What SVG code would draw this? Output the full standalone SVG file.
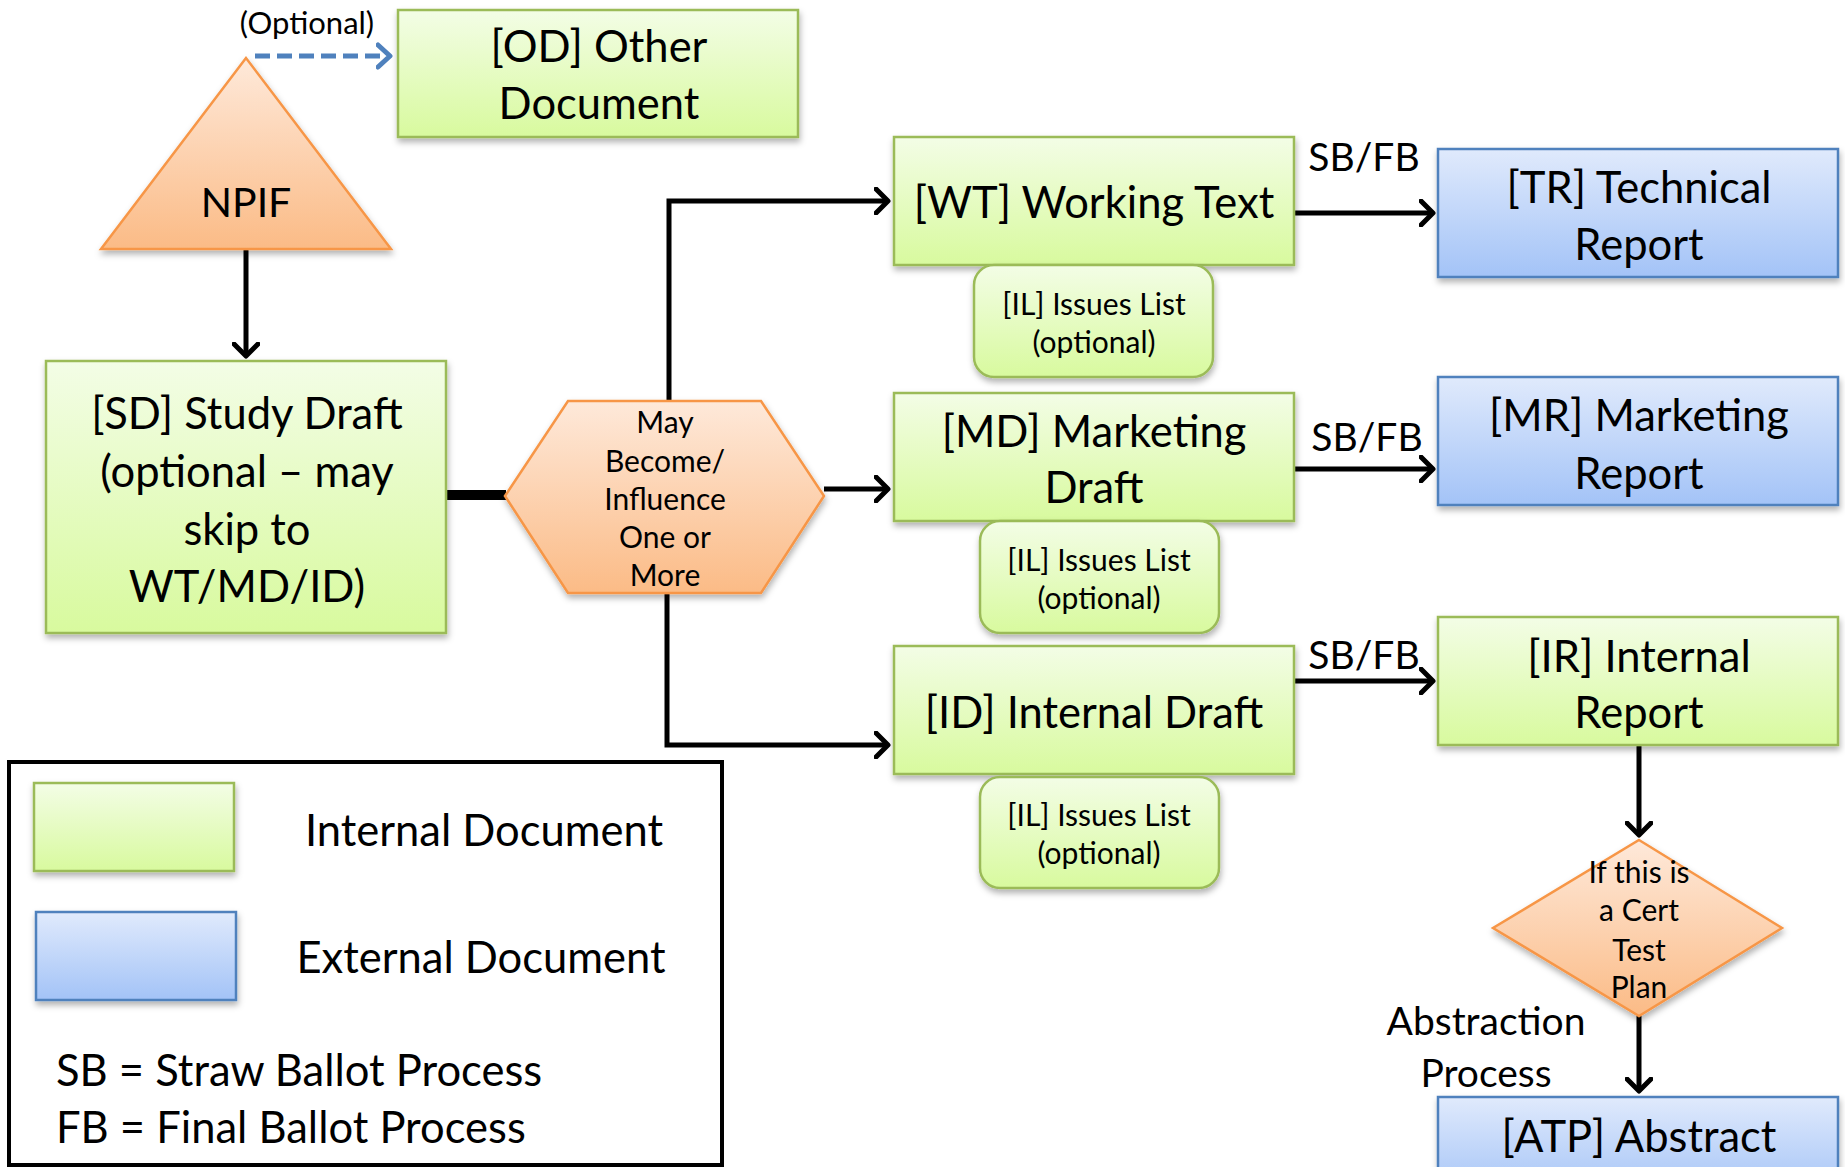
<svg xmlns="http://www.w3.org/2000/svg" width="1845" height="1167" viewBox="0 0 1845 1167">
<defs>
<linearGradient id="gG" x1="0" y1="0" x2="0" y2="1"><stop offset="0" stop-color="#f3fde6"/><stop offset="1" stop-color="#d8fa9e"/></linearGradient>
<linearGradient id="gB" x1="0" y1="0" x2="0" y2="1"><stop offset="0" stop-color="#e0eafc"/><stop offset="1" stop-color="#a3c3f7"/></linearGradient>
<linearGradient id="gO" x1="0" y1="0" x2="0" y2="1"><stop offset="0" stop-color="#fee9da"/><stop offset="1" stop-color="#fbbb86"/></linearGradient>
<filter id="sh" x="-10%" y="-10%" width="120%" height="130%"><feDropShadow dx="1" dy="4" stdDeviation="3" flood-color="#000" flood-opacity="0.3"/></filter>
<marker id="ah" markerUnits="userSpaceOnUse" viewBox="0 0 18 28" refX="14" refY="14" markerWidth="18" markerHeight="28" orient="auto"><path d="M2,2 L14,14 L2,26" fill="none" stroke="#000" stroke-width="5" stroke-linecap="round" stroke-linejoin="round"/></marker>
<marker id="ahb" markerUnits="userSpaceOnUse" viewBox="0 0 18 28" refX="14" refY="14" markerWidth="18" markerHeight="28" orient="auto"><path d="M2,3 L14,14 L2,25" fill="none" stroke="#4f81bd" stroke-width="5" stroke-linecap="round" stroke-linejoin="round"/></marker>
<style>
.g{fill:url(#gG);stroke:#9bbb59;stroke-width:2.5;filter:url(#sh)}
.b{fill:url(#gB);stroke:#4f81bd;stroke-width:2.5;filter:url(#sh)}
.o{fill:url(#gO);stroke:#f79646;stroke-width:2.5;filter:url(#sh)}
text{font-family:Lato,"Liberation Sans",sans-serif;fill:#000;text-anchor:middle;dominant-baseline:central}
.t{font-size:43.5px}
.s{font-size:30px}
.m{font-size:39px}
.c{fill:none;stroke:#000;stroke-width:5;marker-end:url(#ah)}
</style>
</defs>
<g id="connectors">
<path class="c" d="M255,56 H390" style="stroke:#4f81bd;stroke-dasharray:15 7;marker-end:url(#ahb)"/>
<path class="c" d="M246,249 V356"/>
<path d="M446,495 H506" fill="none" stroke="#000" stroke-width="10"/>
<path class="c" d="M669,401 V201 H888"/>
<path class="c" d="M824,489 H888"/>
<path class="c" d="M667,593 V745 H888"/>
<path class="c" d="M1294,213 H1433"/>
<path class="c" d="M1294,469 H1433"/>
<path class="c" d="M1294,681 H1433"/>
<path class="c" d="M1639,745 V835"/>
<path class="c" d="M1639,1016 V1091"/>
<text class="m" x="1364" y="156">SB/FB</text>
<text class="m" x="1367" y="436">SB/FB</text>
<text class="m" x="1364" y="654">SB/FB</text>
<text x="307" y="22" style="font-size:31px">(Optional)</text>
<text class="m" x="1486" y="1020">Abstraction</text>
<text class="m" x="1486" y="1072">Process</text>
</g>
<g id="OD"><rect class="g" x="398" y="10" width="400" height="127"/><text class="t" x="599" y="45">[OD] Other</text><text class="t" x="599" y="102">Document</text></g>
<g id="NPIF"><polygon class="o" points="246,58 101,249 391,249"/><text x="246" y="201" style="font-size:41px">NPIF</text></g>
<g id="SD"><rect class="g" x="46" y="361" width="400" height="272"/><text class="t" x="247" y="412">[SD] Study Draft</text><text class="t" x="247" y="470">(optional – may</text><text class="t" x="247" y="528">skip to</text><text class="t" x="247" y="585">WT/MD/ID)</text></g>
<g id="HEX"><polygon class="o" points="505,496 568,401 761,401 824,496 761,593 568,593"/><text class="s" x="665" y="421">May</text><text class="s" x="665" y="460">Become/</text><text class="s" x="665" y="498">Influence</text><text class="s" x="665" y="536">One or</text><text class="s" x="665" y="574">More</text></g>
<g id="WT"><rect class="g" x="894" y="137" width="400" height="128"/><text class="t" x="1094" y="201">[WT] Working Text</text></g>
<g id="IL1"><rect class="g" x="974" y="265" width="239" height="112" rx="20"/><text class="s" x="1094" y="303">[IL] Issues List</text><text class="s" x="1094" y="341">(optional)</text></g>
<g id="MD"><rect class="g" x="894" y="393" width="400" height="128"/><text class="t" x="1094" y="430">[MD] Marketing</text><text class="t" x="1094" y="486">Draft</text></g>
<g id="IL2"><rect class="g" x="980" y="521" width="239" height="112" rx="20"/><text class="s" x="1099" y="559">[IL] Issues List</text><text class="s" x="1099" y="597">(optional)</text></g>
<g id="ID"><rect class="g" x="894" y="646" width="400" height="128"/><text class="t" x="1094" y="711">[ID] Internal Draft</text></g>
<g id="IL3"><rect class="g" x="980" y="777" width="239" height="111" rx="20"/><text class="s" x="1099" y="814">[IL] Issues List</text><text class="s" x="1099" y="852">(optional)</text></g>
<g id="TR"><rect class="b" x="1438" y="149" width="400" height="128"/><text class="t" x="1639" y="186">[TR] Technical</text><text class="t" x="1639" y="243">Report</text></g>
<g id="MR"><rect class="b" x="1438" y="377" width="400" height="128"/><text class="t" x="1639" y="414">[MR] Marketing</text><text class="t" x="1639" y="472">Report</text></g>
<g id="IR"><rect class="g" x="1438" y="617" width="400" height="128"/><text class="t" x="1639" y="655">[IR] Internal</text><text class="t" x="1639" y="711">Report</text></g>
<g id="CERT"><polygon class="o" points="1639,840 1782,928 1639,1016 1493,928"/><text class="s" x="1639" y="871">If this is</text><text class="s" x="1639" y="909">a Cert</text><text class="s" x="1639" y="949">Test</text><text class="s" x="1639" y="986">Plan</text></g>
<g id="ATP"><rect class="b" x="1438" y="1097" width="400" height="100"/><text class="t" x="1639" y="1135">[ATP] Abstract</text></g>
<g id="legend">
<rect x="9" y="762" width="713" height="403" fill="none" stroke="#000" stroke-width="4"/>
<rect class="g" x="34" y="783" width="200" height="88"/>
<rect class="b" x="36" y="912" width="200" height="88"/>
<text class="t" x="484" y="829">Internal Document</text>
<text class="t" x="481" y="956">External Document</text>
<text class="t" x="56" y="1069" style="text-anchor:start">SB = Straw Ballot Process</text>
<text class="t" x="56" y="1126" style="text-anchor:start">FB = Final Ballot Process</text>
</g>
</svg>
